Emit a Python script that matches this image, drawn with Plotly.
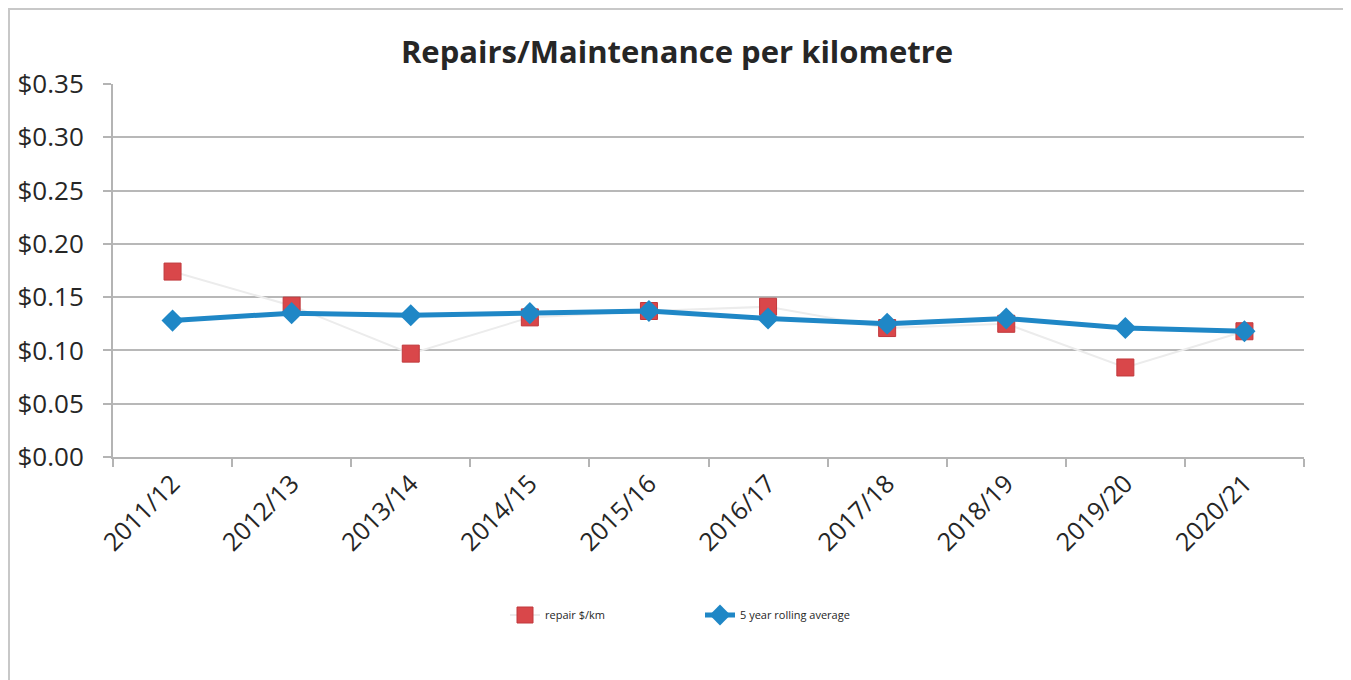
import plotly.graph_objects as go

categories = ["2011/12", "2012/13", "2013/14", "2014/15", "2015/16",
              "2016/17", "2017/18", "2018/19", "2019/20", "2020/21"]
repair_per_km = [0.174, 0.142, 0.097, 0.131, 0.137, 0.141, 0.121, 0.125, 0.084, 0.118]
rolling_avg = [0.128, 0.135, 0.133, 0.135, 0.137, 0.130, 0.125, 0.130, 0.121, 0.118]
y_ticks = [0, 0.05, 0.10, 0.15, 0.20, 0.25, 0.30, 0.35]
y_labels = ["$%.2f" % v for v in y_ticks]

OFF = 8  # page body offset
W, H = 1351, 680
L, T = 113 - OFF, 84 - OFF
pw, ph = 1191, 373
R = W - L - pw
B = H - T - ph

def px(x):
    return (x - OFF - L) / pw

def py(y):
    return (T + ph - (y - OFF)) / ph

font = "Open Sans"

fig = go.Figure()
fig.add_trace(go.Scatter(
    x=categories, y=repair_per_km, name="repair $/km", mode="lines+markers",
    line=dict(color="#ececec", width=2),
    marker=dict(symbol="square", size=17, color="#d9474a",
                line=dict(color="#c0393c", width=1)),
))
fig.add_trace(go.Scatter(
    x=categories, y=rolling_avg, name="5 year rolling average", mode="lines+markers",
    line=dict(color="#1f87c6", width=5),
    marker=dict(symbol="diamond", size=17, color="#1f87c6"),
))

fig.update_layout(
    width=W, height=H,
    margin=dict(l=L, r=R, t=T, b=B, autoexpand=False),
    paper_bgcolor="white", plot_bgcolor="white",
    title=dict(text="<b>Repairs/Maintenance per kilometre</b>",
               x=(677 - OFF) / W, xref="container", xanchor="center",
               y=1 - (52 - OFF) / H, yref="container", yanchor="middle",
               font=dict(family=font, size=31, color="#262626")),
    showlegend=True,
    legend=dict(orientation="h", x=px(505), xanchor="left", y=py(615), yanchor="middle",
                font=dict(family=font, size=11, color="#262626"),
                entrywidth=150, entrywidthmode="pixels",
                bgcolor="rgba(0,0,0,0)"),
    xaxis=dict(
        type="category", range=[-0.5, 9.5], showgrid=False, automargin=False,
        showline=True, linecolor="#b4b4b4", linewidth=2,
        ticks="outside", ticklen=8, tickcolor="#b4b4b4", tickwidth=2,
        tickson="boundaries", tickangle=-45,
        tickfont=dict(family=font, size=25, color="#262626"),
    ),
    yaxis=dict(
        range=[0, 0.35], tickvals=y_ticks, ticktext=y_labels, automargin=False,
        showgrid=True, gridcolor="#b8b8b8", gridwidth=2,
        showline=True, linecolor="#b4b4b4", linewidth=2,
        ticks="outside", ticklen=8, tickcolor="#b4b4b4", tickwidth=2,
        ticklabelstandoff=14,
        tickfont=dict(family=font, size=26, color="#262626"),
        zeroline=False,
    ),
)

fig.add_shape(type="rect", xref="paper", yref="paper",
              x0=px(9), x1=px(1349), y0=py(700), y1=py(9),
              line=dict(color="#c8c8c8", width=2), layer="below")

fig.write_html("out.html")
